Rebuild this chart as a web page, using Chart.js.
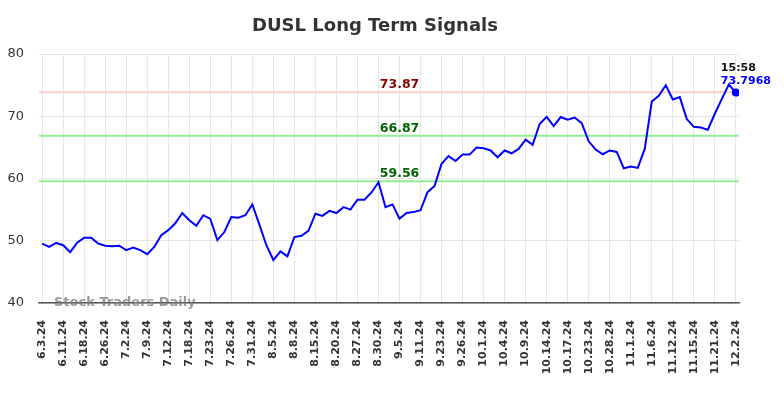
<!DOCTYPE html>
<html>
<head>
<meta charset="utf-8">
<script src="https://cdn.jsdelivr.net/npm/chart.js@4.4.1/dist/chart.umd.min.js"></script>
<style>
    html, body { margin: 0; padding: 0; background: #fff; }
    #wrap { width: 784px; height: 398px; }
</style>
</head>
<body>
<div id="wrap"><canvas id="chart" width="784" height="398"></canvas></div>
<script>
// --- Data ---
const tickLabels = [
    '6.3.24', '6.11.24', '6.18.24', '6.26.24', '7.2.24', '7.9.24', '7.12.24', '7.18.24',
    '7.23.24', '7.26.24', '7.31.24', '8.5.24', '8.8.24', '8.15.24', '8.20.24', '8.27.24',
    '8.30.24', '9.5.24', '9.11.24', '9.23.24', '9.26.24', '10.1.24', '10.4.24', '10.9.24',
    '10.14.24', '10.17.24', '10.23.24', '10.28.24', '11.1.24', '11.6.24', '11.12.24',
    '11.15.24', '11.21.24', '12.2.24'
];
const pointsPerTick = 3;

const signalValues = [
    49.55, 49.0, 49.65, 49.28, 48.16, 49.7, 50.5, 50.5, 49.55, 49.2,
    49.1, 49.2, 48.5, 48.9, 48.5, 47.84, 49.0, 50.9, 51.7, 52.8,
    54.45, 53.3, 52.4, 54.1, 53.5, 50.1, 51.4, 53.8, 53.7, 54.1,
    55.84, 52.6, 49.28, 46.9, 48.3, 47.5, 50.6, 50.8, 51.6, 54.35,
    54.0, 54.8, 54.45, 55.4, 55.0, 56.6, 56.6, 57.76, 59.4, 55.4,
    55.84, 53.55, 54.45, 54.6, 54.9, 57.8, 58.8, 62.35, 63.6, 62.8,
    63.84, 63.84, 64.96, 64.85, 64.5, 63.4, 64.5, 64.05, 64.75, 66.24,
    65.4, 68.75, 69.9, 68.4, 69.87, 69.44, 69.8, 68.9, 65.97, 64.64,
    63.9, 64.5, 64.27, 61.65, 61.92, 61.7, 64.75, 72.37, 73.28, 74.99,
    72.7, 73.07, 69.55, 68.3, 68.2, 67.84, 70.4, 72.8, 75.1, 73.7968
];

const levelValues = [73.87, 66.87, 59.56];
const lastTime = '15:58';
const lastValueText = '73.7968';

// --- Styles ---
const FONT = '"DejaVu Sans", sans-serif';
const levelLineColors = ['#ffcccc', '#90ee90', '#90ee90'];
const levelTextColors = ['#8b0000', '#006400', '#006400'];
const levelLabelIndex = 51;

const lastIndex = signalValues.length - 1;

const overlayPlugin = {
    id: 'overlay',
    beforeDatasetsDraw(chart) {
        const { ctx, chartArea, scales } = chart;
        ctx.save();
        levelValues.forEach((lv, i) => {
            const y = scales.y.getPixelForValue(lv);
            ctx.strokeStyle = levelLineColors[i];
            ctx.lineWidth = 2;
            ctx.beginPath();
            ctx.moveTo(chartArea.left, y);
            ctx.lineTo(chartArea.right, y);
            ctx.stroke();

            ctx.fillStyle = levelTextColors[i];
            ctx.font = 'bold 12.5px ' + FONT;
            ctx.textAlign = 'center';
            ctx.textBaseline = 'bottom';
            ctx.fillText(lv.toFixed(2), scales.x.getPixelForValue(levelLabelIndex), y - 1);
        });
        ctx.restore();
    },
    afterDraw(chart) {
        const { ctx, chartArea, scales } = chart;
        ctx.save();

        // Title
        ctx.fillStyle = '#333';
        ctx.font = 'bold 18px ' + FONT;
        ctx.textAlign = 'center';
        ctx.textBaseline = 'middle';
        ctx.fillText('DUSL Long Term Signals', 375, 26);

        // Watermark
        ctx.fillStyle = 'rgba(120,120,120,0.75)';
        ctx.font = 'bold 13px ' + FONT;
        ctx.textAlign = 'left';
        ctx.fillText('Stock Traders Daily', chartArea.left + 15, chartArea.bottom);

        // Last point labels
        const px = scales.x.getPixelForValue(lastIndex);
        const py = scales.y.getPixelForValue(signalValues[lastIndex]);
        ctx.font = 'bold 11px ' + FONT;
        ctx.fillStyle = '#111';
        ctx.fillText(lastTime, px - 15, py - 24);
        ctx.fillStyle = '#0000ff';
        ctx.fillText(lastValueText, px - 15, py - 11);

        ctx.restore();
    }
};

const ctx = document.getElementById('chart').getContext('2d');
new Chart(ctx, {
    type: 'line',
    data: {
        datasets: [{
            data: signalValues.map((v, i) => ({ x: i, y: v })),
            borderColor: '#0000ff',
            borderWidth: 2,
            tension: 0,
            pointRadius: c => (c.dataIndex === lastIndex ? 4 : 0),
            pointBackgroundColor: '#0000ff',
            pointBorderWidth: 0
        }]
    },
    options: {
        responsive: false,
        animation: false,
        layout: { padding: { top: 54, right: 45, left: 0, bottom: 0 } },
        plugins: {
            legend: { display: false },
            tooltip: { enabled: false },
            title: { display: false }
        },
        scales: {
            x: {
                type: 'linear',
                min: -0.45,
                max: lastIndex + 0.45,
                afterBuildTicks: s => {
                    s.ticks = tickLabels.map((_, k) => ({ value: k * pointsPerTick }));
                },
                afterFit: s => { s.height = 95; },
                ticks: {
                    autoSkip: false,
                    minRotation: 90,
                    maxRotation: 90,
                    padding: 17,
                    color: '#333',
                    font: { family: FONT, size: 11, weight: 'bold' },
                    callback: v => tickLabels[Math.round(v / pointsPerTick)]
                },
                grid: { color: '#e6e6e6', drawTicks: false },
                border: { color: '#555', width: 1.5 }
            },
            y: {
                min: 40,
                max: 80,
                afterFit: s => { s.width = 39; },
                ticks: {
                    stepSize: 10,
                    padding: 15,
                    color: '#333',
                    font: { family: FONT, size: 13 }
                },
                grid: { color: '#e6e6e6', drawTicks: false },
                border: { display: false }
            }
        }
    },
    plugins: [overlayPlugin]
});
</script>
</body>
</html>
